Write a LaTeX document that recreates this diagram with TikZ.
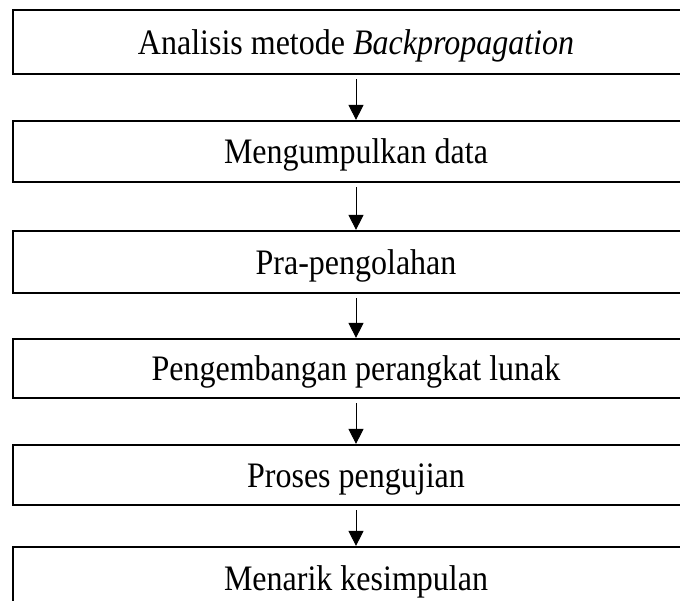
\documentclass[tikz,border=0pt]{standalone}
\usepackage{fontspec}
\setmainfont{Liberation Serif}
\usetikzlibrary{arrows.meta}
\newcommand{\stretchtext}[1]{\scalebox{1}[1.12]{#1}}
\tikzset{
  stepbox/.style={draw=black, line width=2.2pt, minimum width=686pt, minimum height=62pt,
    inner sep=0pt, text height=33pt, text depth=8pt,
    font=\fontsize{32}{38}\selectfont, anchor=center},
  flowarrow/.style={line width=1pt, -{Triangle[length=15pt,width=15pt]}, shorten <=4pt}
}
\begin{document}
\begin{tikzpicture}[x=1pt,y=-1pt]
\useasboundingbox (0,0) rectangle (680,601);
\clip (0,0) rectangle (680,601);
\fill[white] (0,0) rectangle (680,601);
\node[stepbox, minimum height=64pt] (b1) at (356,42) {\stretchtext{Analisis metode \textit{Backpropagation}}};
\node[stepbox, minimum height=61pt] (b2) at (356,151.5) {\stretchtext{Mengumpulkan data}};
\node[stepbox] (b3) at (356,262) {\stretchtext{Pra-pengolahan}};
\node[stepbox, minimum height=59pt] (b4) at (356,368.5) {\stretchtext{Pengembangan perangkat lunak}};
\node[stepbox, minimum height=60pt] (b5) at (356,475) {\stretchtext{Proses pengujian}};
\node[stepbox] (b6) at (356,578) {\stretchtext{Menarik kesimpulan}};
\draw[flowarrow] (b1.south) -- (b2.north);
\draw[flowarrow] (b2.south) -- (b3.north);
\draw[flowarrow] (b3.south) -- (b4.north);
\draw[flowarrow] (b4.south) -- (b5.north);
\draw[flowarrow] (b5.south) -- (b6.north);
\end{tikzpicture}
\end{document}
